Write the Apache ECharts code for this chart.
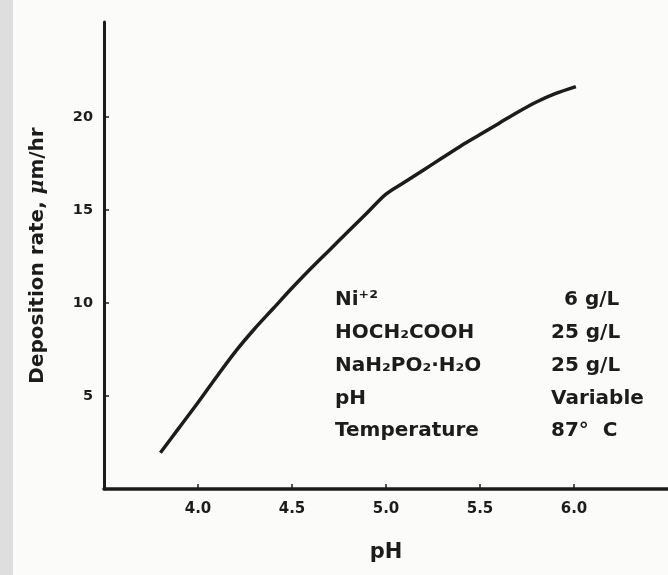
<!DOCTYPE html>
<html>
<head>
<meta charset="utf-8">
<style>
  html, body { margin: 0; padding: 0; background: #fbfbfa; }
  #chart { width: 668px; height: 575px; }
</style>
<script src="https://cdn.jsdelivr.net/npm/echarts@6/dist/echarts.min.js"></script>
</head>
<body>
<div id="chart"></div>
<script>
// curve
const phValues = [3.80, 3.90, 4.00, 4.10, 4.20, 4.30, 4.40, 4.50, 4.60, 4.70, 4.80, 4.90, 5.00, 5.10, 5.20, 5.30, 5.40, 5.50, 5.60, 5.70, 5.80, 5.90, 6.01]
const rateValues = [1.95, 3.3, 4.65, 6.05, 7.4, 8.6, 9.7, 10.8, 11.85, 12.85, 13.85, 14.85, 15.85, 16.5, 17.15, 17.8, 18.45, 19.05, 19.65, 20.25, 20.8, 21.25, 21.63]

const xTicks = [4.0, 4.5, 5.0, 5.5, 6.0]
const yTicks = [5, 10, 15, 20]

// bath composition box
const bathLabels = ['Ni\u207A\u00B2', 'HOCH\u2082COOH', 'NaH\u2082PO\u2082\u00B7H\u2082O', 'pH', 'Temperature']
const bathValues = ['6 g/L', '25 g/L', '25 g/L', 'Variable', '87\u00B0  C']

const font = 'DejaVu Sans'
const ink = '#1c1c1c'

const chart = echarts.init(document.getElementById('chart'), null, { renderer: 'canvas' })

const rowTop = 300
const rowStep = 32.8
const graphic = [
  // grey scanner edge on the left
  { type: 'rect', left: 0, top: 0, shape: { width: 13, height: 575 }, style: { fill: '#dedede' }, silent: true }
]
bathLabels.forEach((t, i) => {
  graphic.push({
    type: 'text', x: 335, y: rowTop + i * rowStep,
    style: { text: t, font: `bold 20px "${font}"`, fill: ink, textVerticalAlign: 'middle' }
  })
  graphic.push({
    type: 'text', x: i === 0 ? 564 : 551, y: rowTop + i * rowStep,
    style: { text: bathValues[i], font: `bold 20px "${font}"`, fill: ink, textVerticalAlign: 'middle' }
  })
})

chart.setOption({
  backgroundColor: '#fbfbfa',
  animation: false,
  grid: { left: 104, top: 22, width: 570, height: 467 },
  xAxis: {
    type: 'value',
    min: 3.5,
    max: 6.5,
    name: 'pH',
    nameLocation: 'middle',
    nameGap: 53,
    nameTextStyle: { fontFamily: font, fontWeight: 'bold', fontSize: 21, color: ink },
    axisLine: { show: true, onZero: false, lineStyle: { color: ink, width: 3.5 } },
    axisTick: { show: true, inside: true, length: 5, customValues: xTicks, lineStyle: { color: ink, width: 1.5 } },
    axisLabel: {
      customValues: xTicks,
      margin: 13,
      fontFamily: font, fontWeight: 'bold', fontSize: 15, color: ink,
      formatter: v => v.toFixed(1)
    },
    splitLine: { show: false }
  },
  yAxis: {
    type: 'value',
    min: 0,
    max: 25.1,
    name: 'Deposition rate, {mu|\u03BC}m/hr',
    nameLocation: 'middle',
    nameGap: 56,
    nameRotate: 90,
    nameTextStyle: {
      fontFamily: font, fontWeight: 'bold', fontSize: 20, color: ink,
      rich: { mu: { fontFamily: 'DejaVu Serif', fontStyle: 'italic', fontSize: 20, color: ink } }
    },
    axisLine: { show: true, lineStyle: { color: ink, width: 3 } },
    axisTick: { show: true, inside: true, length: 5, customValues: yTicks, lineStyle: { color: ink, width: 1.5 } },
    axisLabel: {
      customValues: yTicks,
      margin: 11,
      fontFamily: font, fontWeight: 'bold', fontSize: 14.5, color: ink
    },
    splitLine: { show: false }
  },
  graphic: graphic,
  series: [{
    type: 'line',
    data: phValues.map((x, i) => [x, rateValues[i]]),
    smooth: 0.3,
    showSymbol: false,
    symbol: 'none',
    lineStyle: { color: ink, width: 3.5 },
    z: 3
  }]
})

window.addEventListener('resize', () => chart.resize())
</script>
</body>
</html>
